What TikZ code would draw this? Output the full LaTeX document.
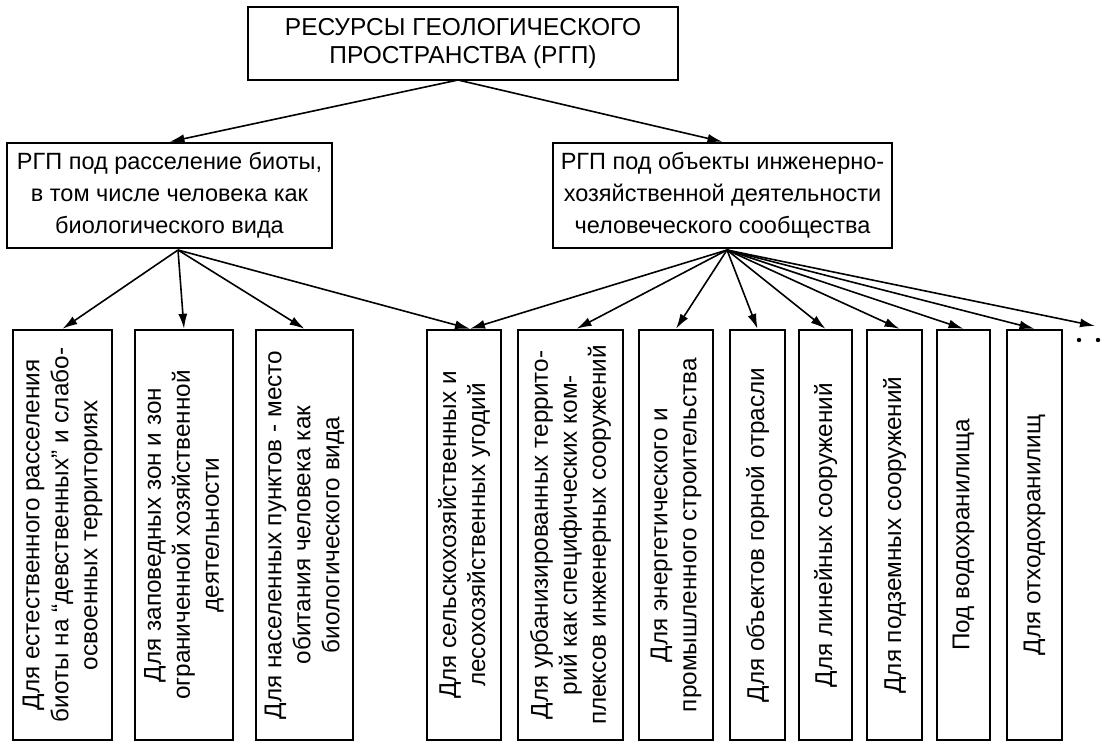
\documentclass[tikz,border=0pt]{standalone}
\usepackage{fontspec}
\setmainfont{Liberation Sans}
\usetikzlibrary{arrows.meta,calc}
\begin{document}
\begin{tikzpicture}[x=1pt,y=-1pt,
  box/.style={draw, line width=2.4pt, inner sep=0pt, align=center},
  topbox/.style={box, font=\fontsize{24.5}{28}\selectfont},
  midbox/.style={box, font=\fontsize{23.5}{32}\selectfont, minimum height=105pt},
  leaf/.style={box, rotate=90, minimum width=410pt, font=\fontsize{24.3}{29}\selectfont},
  arr/.style={line width=1.6pt, -{Latex[length=15pt,width=9pt]}},
]
\useasboundingbox (0,0) rectangle (1115,742);

\node[topbox, minimum width=430pt, minimum height=73pt] (top) at (463,43.5)
  {РЕСУРСЫ ГЕОЛОГИЧЕСКОГО\\ПРОСТРАНСТВА (РГП)};

\node[midbox, minimum width=325pt] (L) at (169.5,195.5)
  {РГП под расселение биоты,\\в том числе человека как\\биологического вида};
\node[midbox, minimum width=339pt] (R) at (722.5,195.5)
  {РГП под объекты инженерно-\\хозяйственной деятельности\\человеческого сообщества};

\node[leaf, minimum height=99pt] (b1) at (62.5,535)
  {Для естественного расселения\\биоты на “девственных” и слабо-\\освоенных территориях};
\node[leaf, minimum height=98pt] (b2) at (184,535)
  {Для заповедных зон и зон\\ограниченной хозяйственной\\деятельности};
\node[leaf, minimum height=97pt] (b3) at (304.5,535)
  {Для населенных пунктов - место\\обитания человека как\\биологического вида};
\node[leaf, minimum height=74pt] (b4) at (464,535)
  {Для сельскохозяйственных и\\лесохозяйственных угодий};
\node[leaf, minimum height=105pt] (b5) at (570.5,535)
  {Для урбанизированных террито-\\рий как специфических ком-\\плексов инженерных сооружений};
\node[leaf, minimum height=74pt] (b6) at (676,535)
  {Для энергетического и\\промышленного строительства};
\node[leaf, minimum height=55pt] (b7) at (757.5,535) {Для объектов горной отрасли};
\node[leaf, minimum height=53pt] (b8) at (825.5,535) {Для линейных сооружений};
\node[leaf, minimum height=55pt] (b9) at (894.5,535) {Для подземных сооружений};
\node[leaf, minimum height=53pt] (b10) at (963.5,535) {Под водохранилища};
\node[leaf, minimum height=55pt] (b11) at (1034.5,535) {Для отходохранилищ};

\coordinate (topS) at (458,80);
\coordinate (Ls) at (178,250);
\coordinate (Rs) at (727,250);
\coordinate (more) at (1095,326);

\draw[arr] (topS) -- (L.north);
\draw[arr] (topS) -- (R.north);

\draw[arr] (Ls) -- (b1.east);
\draw[arr] (Ls) -- (b2.east);
\draw[arr] (Ls) -- (b3.east);
\draw[arr] (Ls) -- ($(b4.east)+(6,0)$);

\draw[arr] (Rs) -- ($(b4.east)+(6,0)$);
\draw[arr] (Rs) -- ($(b5.east)+(6,0)$);
\draw[arr] (Rs) -- (b6.east);
\draw[arr] (Rs) -- (b7.east);
\draw[arr] (Rs) -- (b8.east);
\draw[arr] (Rs) -- ($(b9.east)+(5,0)$);
\draw[arr] (Rs) -- (b10.east);
\draw[arr] (Rs) -- (b11.east);
\draw[arr] (Rs) -- (more);

\fill (1079,340) circle (2.2pt);
\fill (1098,340) circle (2.2pt);
\end{tikzpicture}
\end{document}
